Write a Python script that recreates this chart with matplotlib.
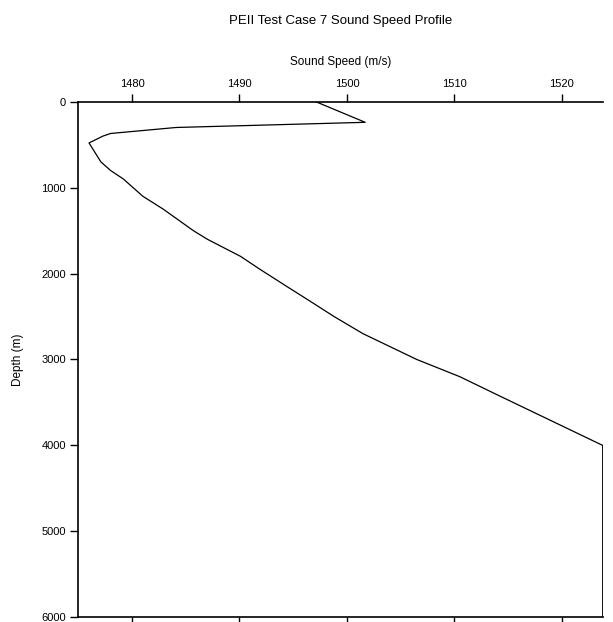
import matplotlib
matplotlib.use("Agg")
import matplotlib.pyplot as plt

plt.rcParams['font.family'] = ['Liberation Sans', 'DejaVu Sans']

# sound speed profile
depth = [0, 240, 300, 370, 400, 480, 560, 700, 800, 900, 1100, 1250, 1500,
         1600, 1800, 1950, 2150, 2300, 2500, 2700, 3000, 3200, 3430, 4000, 6000]
speed = [1497.1, 1501.7, 1484.1, 1478.0, 1477.3, 1476.0, 1476.4, 1477.1,
         1478.0, 1479.2, 1481.0, 1482.9, 1485.7, 1487.0, 1490.1, 1491.9,
         1494.4, 1496.3, 1498.8, 1501.5, 1506.5, 1510.5, 1514.3, 1523.8, 1523.8]

x_ticks = [1480, 1490, 1500, 1510, 1520]
y_ticks = [0, 1000, 2000, 3000, 4000, 5000, 6000]

fig = plt.figure(figsize=(6.13, 6.22), dpi=100)
ax = fig.add_axes([0.1277, 0.0076, 0.8555, 0.8289])

ax.plot(speed, depth, color='black', lw=0.9)

ax.set_xlim(1475, max(speed))
ax.set_ylim(6000, 0)
ax.set_xticks(x_ticks)
ax.set_yticks(y_ticks)

ax.xaxis.set_ticks_position('both')
ax.tick_params(axis='x', which='both', labeltop=True, labelbottom=False)
ax.tick_params(direction='out', length=6, width=1, labelsize=8, pad=3)
ax.spines['right'].set_visible(False)
for s in ['left', 'top', 'bottom']:
    ax.spines[s].set_linewidth(1.2)

ax.xaxis.set_label_position('top')
ax.set_xlabel('Sound Speed (m/s)', fontsize=8.5, labelpad=10)
ax.set_ylabel('Depth (m)', fontsize=8.5, labelpad=12)
ax.set_title('PEII Test Case 7 Sound Speed Profile', fontsize=9.5, pad=56)

fig.savefig('out.png', dpi=100)
